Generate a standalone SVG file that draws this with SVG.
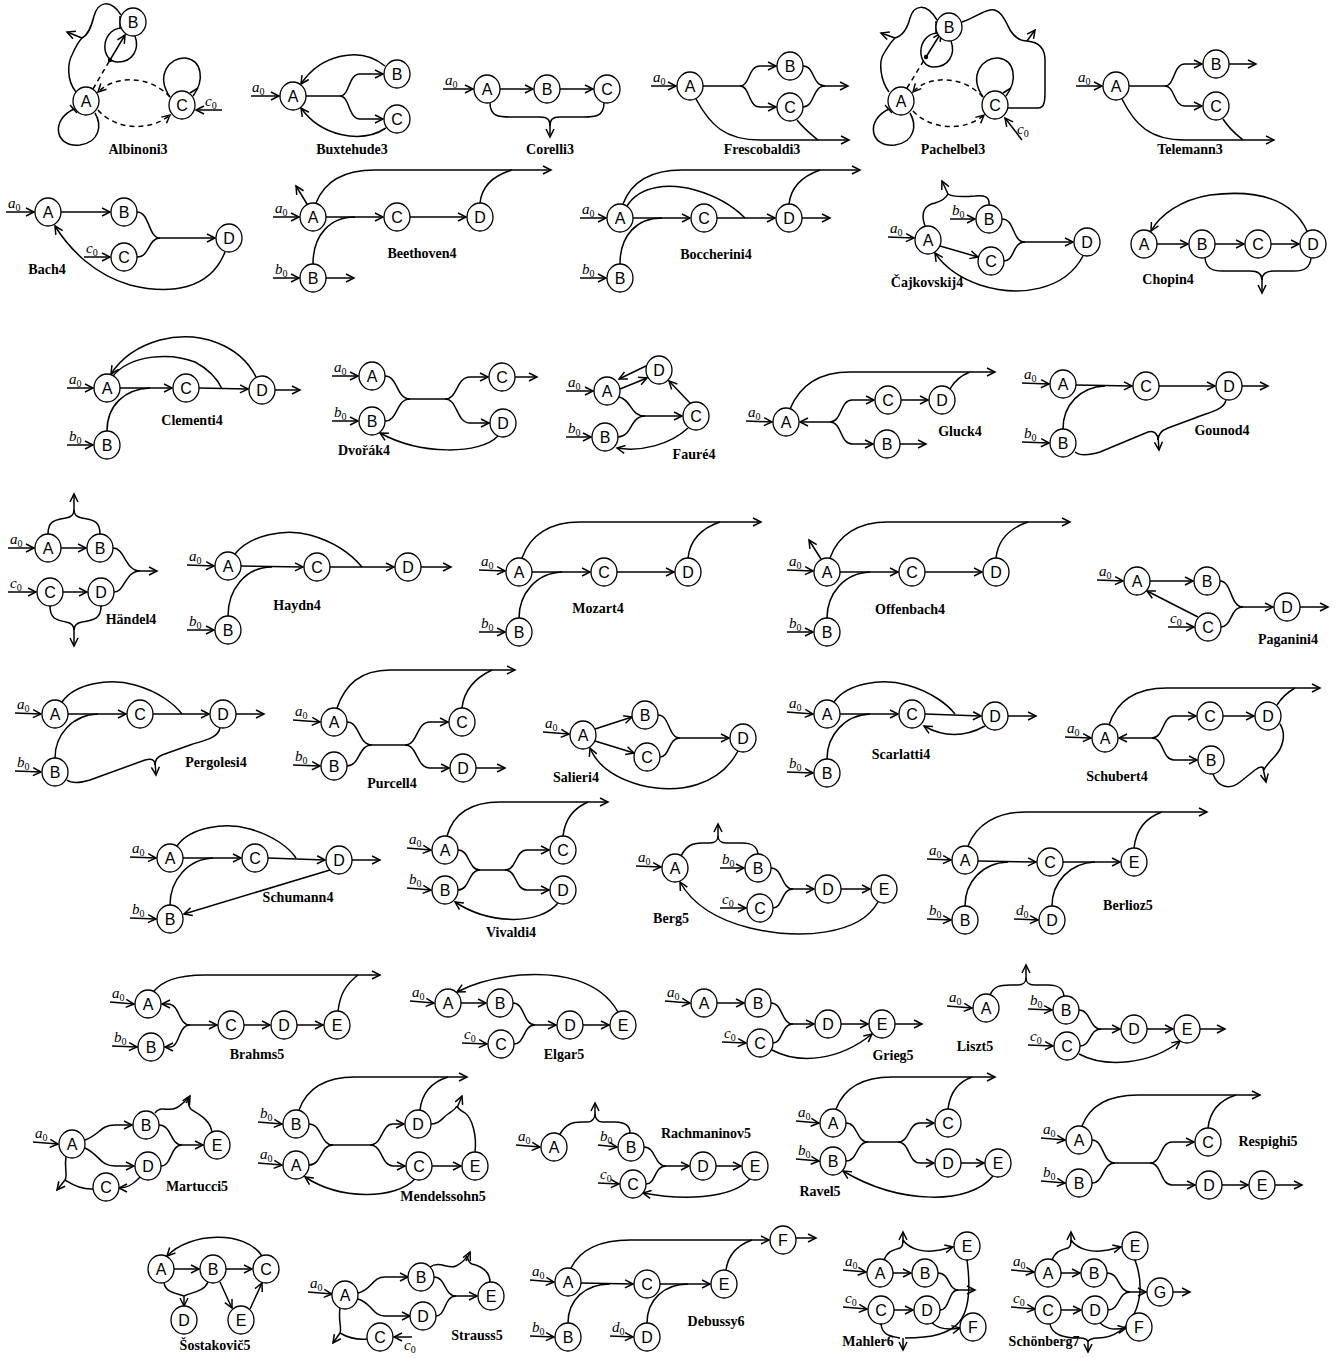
<svg xmlns="http://www.w3.org/2000/svg" width="1343" height="1358" viewBox="0 0 1343 1358">
<defs>
<marker id="h" markerUnits="userSpaceOnUse" markerWidth="12" markerHeight="12" refX="9" refY="5" orient="auto"><path d="M1,1 L9,5 L1,9" fill="none" stroke="#000" stroke-width="1.5"/></marker>
</defs>
<style>
.e path{fill:none;stroke:#000;stroke-width:1.5}
.e .a{marker-end:url(#h)}
.e .d{stroke-dasharray:5 4}
.nd ellipse{fill:#fff;stroke:#000;stroke-width:1.3}
.nd text{font-family:"Liberation Sans",Arial,sans-serif;font-size:16px;text-anchor:middle}
.lb{font-family:"Liberation Serif","Times New Roman",serif;font-weight:bold;font-size:14px;text-anchor:middle}
.iv{font-family:"Liberation Serif","Times New Roman",serif;font-style:italic;font-size:15px}
.iv tspan{font-size:10px;font-style:normal}
</style>
<rect width="1343" height="1358" fill="#fff"/>
<g id="connectors" class="e">
<!-- Albinoni3 -->
<path d="M74,109 C50,120 55,148 80,145 C100,142 102,125 95,113"/>
<path d="M70,105 L77,113"/>
<path d="M121,28 C100,30 100,62 118,62 C132,62 140,50 135,36"/>
<path d="M120,16 L120,28"/>
<path d="M170,97 C155,75 170,57 185,58 C202,60 205,80 193,96"/>
<path d="M190,93 L198,88"/>
<path d="M76,92 C66,80 68,62 72,55 C75,48 78,42 82,38"/>
<path d="M121,15 C110,-2 98,2 94,16 C91,28 88,35 82,38"/>
<path class="a" d="M82,38 L67,32"/>
<path class="d" d="M93,89 L110,60"/>
<path class="a" d="M110,60 L125,35"/>
<path class="d a" d="M170,97 C150,75 115,75 98,92"/>
<path class="d a" d="M98,110 C115,130 150,132 170,115"/>
<path class="a" d="M222,110 L196,110"/>
<!-- Buxtehude3 -->
<path class="a" d="M251,96 L279,96"/>
<path d="M306,96 L340,96"/>
<path class="a" d="M340,96 C350,96 348,74 360,74 L383,74"/>
<path class="a" d="M340,96 C350,96 348,119 360,119 L383,119"/>
<path class="a" d="M385,66 C360,45 320,55 301,84"/>
<path class="a" d="M386,128 C360,145 320,135 301,108"/>
<!-- Corelli3 -->
<path class="a" d="M443,89 L473,89"/>
<path class="a" d="M500,89 L533,89"/>
<path class="a" d="M560,89 L593,89"/>
<path d="M490,103 C490,117 500,117 510,117 L540,117 C548,117 550,120 550,126"/>
<path d="M604,103 C604,117 594,117 584,117 L560,117 C552,117 550,120 550,126"/>
<path class="a" d="M550,122 L550,137"/>
<!-- Frescobaldi3 -->
<path class="a" d="M651,86 L676,86"/>
<path d="M703,86 L740,86"/>
<path class="a" d="M740,86 C750,86 748,66 760,66 L776,66"/>
<path class="a" d="M740,86 C750,86 748,107 760,107 L776,107"/>
<path d="M803,66 C815,66 812,86 825,86"/>
<path d="M803,107 C815,107 812,86 825,86"/>
<path class="a" d="M825,86 L848,86"/>
<path class="a" d="M696,99 C710,125 725,140 760,140 L849,140"/>
<path d="M797,120 C805,130 812,135 818,140"/>
<!-- Pachelbel3 -->
<path d="M889,109 C865,120 870,148 895,145 C915,142 917,125 910,113"/>
<path d="M885,105 L892,113"/>
<path d="M937,33 C916,35 916,67 934,67 C948,67 956,55 951,41"/>
<path d="M936,21 L936,33"/>
<path d="M983,97 C968,75 983,57 998,58 C1015,60 1018,80 1006,96"/>
<path d="M1003,93 L1011,88"/>
<path d="M889,92 C880,80 879,62 883,55 C887,48 891,42 895,38"/>
<path d="M937,20 C926,2 914,5 910,18 C907,30 902,36 895,38"/>
<path class="a" d="M895,38 L881,33"/>
<path d="M962,22 C975,18 980,12 990,10 C1000,8 1005,20 1010,30 C1015,38 1020,41 1027,41"/>
<path d="M1008,108 L1038,108 C1045,108 1045,100 1045,90 L1045,60 C1045,48 1038,42 1027,41"/>
<path class="a" d="M1027,41 L1035,30"/>
<path class="d" d="M907,88 L926,57"/>
<path class="a" d="M926,57 L941,33"/>
<path class="d a" d="M983,97 C963,75 928,75 913,92"/>
<path class="d a" d="M913,111 C930,130 965,132 984,115"/>
<path class="a" d="M1022,140 L1005,118"/>
<!-- Telemann3 -->
<path class="a" d="M1076,86 L1102,86"/>
<path d="M1129,86 L1165,86"/>
<path class="a" d="M1165,86 C1175,86 1173,64 1185,64 L1202,64"/>
<path class="a" d="M1165,86 C1175,86 1173,106 1185,106 L1202,106"/>
<path class="a" d="M1229,64 L1256,64"/>
<path class="a" d="M1122,99 C1135,125 1150,140 1185,140 L1274,140"/>
<path d="M1223,119 C1230,130 1237,135 1243,140"/>
<!-- Bach4 -->
<path class="a" d="M6,212 L34,212"/>
<path class="a" d="M61,212 L110,212"/>
<path class="a" d="M84,257 L110,257"/>
<path d="M137,212 C150,212 148,238 160,238"/>
<path d="M137,257 C150,257 148,238 160,238"/>
<path class="a" d="M160,238 L215,238"/>
<path class="a" d="M225,252 C210,290 170,295 130,285 C95,275 70,250 55,226"/>
<!-- Beethoven4 -->
<path class="a" d="M273,217 L299,217"/>
<path class="a" d="M273,278 L299,278"/>
<path class="a" d="M326,278 L354,278"/>
<path class="a" d="M307,204 L296,186"/>
<path class="a" d="M326,217 L383,217"/>
<path d="M313,264 C313,235 330,217 355,217"/>
<path class="a" d="M410,217 L466,217"/>
<path class="a" d="M316,203 C325,180 345,170 375,170 L551,170"/>
<path d="M480,203 C482,185 495,175 512,170"/>
<!-- Boccherini4 -->
<path class="a" d="M580,218 L606,218"/>
<path class="a" d="M580,278 L606,278"/>
<path class="a" d="M633,218 L690,218"/>
<path d="M620,264 C620,235 637,218 662,218"/>
<path class="a" d="M717,218 L775,218"/>
<path d="M627,206 C640,185 670,183 695,190 C720,197 735,208 745,218"/>
<path class="a" d="M623,204 C632,180 652,170 682,170 L860,170"/>
<path d="M789,204 C791,186 803,176 820,170"/>
<path class="a" d="M802,218 L830,218"/>
<!-- Cajkovskij4 -->
<path class="a" d="M888,237 L914,238"/>
<path class="a" d="M950,219 L975,219"/>
<path class="a" d="M940,246 L978,257"/>
<path d="M1002,219 C1015,219 1012,242 1025,242"/>
<path d="M1004,261 C1015,261 1012,242 1025,242"/>
<path class="a" d="M1025,242 L1073,242"/>
<path d="M925,226 C920,212 925,205 935,203 C942,201 946,198 948,194"/>
<path d="M989,205 C990,197 985,195 975,196 C962,197 952,197 948,194"/>
<path class="a" d="M948,194 L942,181"/>
<path class="a" d="M1083,256 C1065,290 1020,298 980,285 C960,278 945,268 935,253"/>
<!-- Chopin4 -->
<path class="a" d="M1157,244 L1188,244"/>
<path class="a" d="M1215,244 L1244,244"/>
<path class="a" d="M1271,244 L1299,244"/>
<path class="a" d="M1307,231 C1290,195 1250,190 1210,195 C1180,200 1160,215 1151,231"/>
<path d="M1205,258 C1206,268 1212,271 1222,271 L1250,271 C1257,271 1262,273 1262,280"/>
<path d="M1311,258 C1310,268 1304,271 1294,271 L1274,271 C1267,271 1262,273 1262,280"/>
<path class="a" d="M1262,278 L1262,293"/>
<!-- Clementi4 -->
<path class="a" d="M67,388 L93,388"/>
<path class="a" d="M67,445 L93,445"/>
<path class="a" d="M120,388 L172,388"/>
<path d="M107,431 C107,405 125,389 150,388"/>
<path class="a" d="M199,388 L248,389"/>
<path d="M113,376 C130,355 170,352 195,362 C210,370 218,380 222,389"/>
<path class="a" d="M256,377 C240,345 200,330 160,340 C135,347 120,360 111,374"/>
<path class="a" d="M275,390 L300,390"/>
<!-- Dvorak4 -->
<path class="a" d="M332,376 L358,376"/>
<path class="a" d="M332,421 L358,421"/>
<path d="M385,376 C398,376 396,399 410,399"/>
<path d="M385,421 C398,421 396,399 410,399"/>
<path d="M410,399 L445,399"/>
<path class="a" d="M445,399 C458,399 456,377 470,377 L488,377"/>
<path class="a" d="M445,399 C458,399 456,423 470,423 L489,423"/>
<path class="a" d="M515,377 L537,377"/>
<path class="a" d="M498,436 C480,455 420,455 380,433"/>
<!-- Faure4 -->
<path class="a" d="M566,391 L593,391"/>
<path class="a" d="M566,437 L591,437"/>
<path class="a" d="M648,365 L619,379"/>
<path class="a" d="M620,389 L647,378"/>
<path d="M619,397 C632,400 630,416 645,416"/>
<path d="M618,437 C632,437 630,416 645,416"/>
<path class="a" d="M645,416 L682,416"/>
<path class="a" d="M690,403 L669,381"/>
<path class="a" d="M688,428 C670,445 640,452 617,448"/>
<!-- Gluck4 -->
<path class="a" d="M746,421 L772,422"/>
<path class="a" d="M790,409 C800,385 820,372 850,372 L995,372"/>
<path d="M950,389 C955,380 962,375 970,372"/>
<path class="a" d="M830,422 L800,422"/>
<path class="a" d="M830,422 C842,422 840,400 852,400 L874,400"/>
<path class="a" d="M830,422 C842,422 840,444 852,444 L873,444"/>
<path class="a" d="M901,400 L928,400"/>
<path class="a" d="M900,444 L926,444"/>
<!-- Gounod4 -->
<path class="a" d="M1022,383 L1049,384"/>
<path class="a" d="M1022,442 L1049,443"/>
<path class="a" d="M1076,385 L1132,386"/>
<path d="M1063,429 C1063,405 1080,387 1105,386"/>
<path class="a" d="M1159,386 L1215,386"/>
<path class="a" d="M1242,386 L1268,386"/>
<path d="M1226,400 C1224,410 1210,412 1195,418 L1168,428 C1160,431 1158,435 1158,440"/>
<path d="M1075,452 C1080,456 1090,455 1100,452 L1148,432 C1155,430 1158,435 1158,440"/>
<path class="a" d="M1158,436 L1159,450"/>
<!-- Handel4 -->
<path class="a" d="M8,548 L34,548"/>
<path class="a" d="M8,592 L36,592"/>
<path class="a" d="M61,548 L86,548"/>
<path class="a" d="M63,592 L87,592"/>
<path d="M48,534 C48,520 56,520 66,518 C72,517 74,514 74,510"/>
<path d="M100,534 C100,520 92,520 82,518 C76,517 74,514 74,510"/>
<path class="a" d="M74,512 L74,494"/>
<path d="M113,548 C125,548 125,571 140,571"/>
<path d="M114,592 C125,592 125,571 140,571"/>
<path class="a" d="M140,571 L157,571"/>
<path d="M50,606 C50,620 58,620 66,622 C72,623 74,626 74,630"/>
<path d="M101,606 C101,620 92,620 82,622 C76,623 74,626 74,630"/>
<path class="a" d="M74,628 L74,646"/>
<!-- Haydn4 -->
<path class="a" d="M187,565 L214,566"/>
<path class="a" d="M187,630 L214,630"/>
<path class="a" d="M241,566 L303,567"/>
<path d="M228,616 C228,590 245,567 272,567"/>
<path class="a" d="M330,567 L394,567"/>
<path d="M235,554 C250,535 285,528 310,535 C335,542 352,555 362,567"/>
<path class="a" d="M421,567 L451,567"/>
<!-- Mozart4 -->
<path class="a" d="M479,570 L505,571"/>
<path class="a" d="M479,632 L505,632"/>
<path class="a" d="M532,572 L590,572"/>
<path d="M519,618 C519,594 536,573 562,572"/>
<path class="a" d="M617,572 L674,572"/>
<path class="a" d="M522,558 C530,535 550,522 580,522 L761,522"/>
<path d="M688,558 C690,540 702,528 720,522"/>
<!-- Offenbach4 -->
<path class="a" d="M787,570 L813,571"/>
<path class="a" d="M787,632 L813,632"/>
<path class="a" d="M821,559 L809,540"/>
<path class="a" d="M840,572 L898,572"/>
<path d="M827,618 C827,594 844,573 870,572"/>
<path class="a" d="M925,572 L982,572"/>
<path class="a" d="M830,558 C838,535 858,522 888,522 L1070,522"/>
<path d="M996,558 C998,540 1010,528 1028,522"/>
<!-- Paganini4 -->
<path class="a" d="M1097,580 L1123,581"/>
<path class="a" d="M1168,627 L1194,627"/>
<path class="a" d="M1150,581 L1193,581"/>
<path class="a" d="M1198,617 L1147,591"/>
<path d="M1220,581 C1232,581 1230,607 1243,607"/>
<path d="M1221,627 C1232,627 1230,607 1243,607"/>
<path class="a" d="M1243,607 L1273,607"/>
<path class="a" d="M1300,607 L1328,607"/>
<!-- Pergolesi4 -->
<path class="a" d="M15,713 L41,714"/>
<path class="a" d="M15,771 L41,772"/>
<path class="a" d="M68,714 L126,714"/>
<path d="M55,758 C55,735 72,715 98,714"/>
<path class="a" d="M153,714 L209,714"/>
<path d="M62,702 C75,683 110,678 135,685 C160,692 175,705 182,714"/>
<path class="a" d="M236,714 L264,714"/>
<path d="M220,728 C218,738 205,740 190,745 L162,755 C157,757 155,760 155,765"/>
<path d="M67,780 C72,784 80,783 90,780 L145,760 C152,758 155,760 155,765"/>
<path class="a" d="M155,762 L156,775"/>
<!-- Purcell4 -->
<path class="a" d="M293,720 L320,722"/>
<path class="a" d="M293,765 L320,766"/>
<path class="a" d="M337,708 C345,685 360,670 390,670 L515,670"/>
<path d="M462,708 C464,690 475,678 492,670"/>
<path d="M347,722 C360,722 358,745 372,745"/>
<path d="M347,766 C360,766 358,745 372,745"/>
<path d="M372,745 L405,745"/>
<path class="a" d="M405,745 C418,745 416,722 430,722 L448,722"/>
<path class="a" d="M405,745 C418,745 416,768 430,768 L449,768"/>
<path class="a" d="M476,768 L505,768"/>
<!-- Salieri4 -->
<path class="a" d="M543,732 L569,734"/>
<path class="a" d="M595,729 L632,717"/>
<path class="a" d="M595,741 L634,753"/>
<path d="M658,715 C670,715 668,738 680,738"/>
<path d="M660,757 C670,757 668,738 680,738"/>
<path class="a" d="M680,738 L729,738"/>
<path class="a" d="M738,751 C720,785 680,795 640,785 C615,778 597,765 590,748"/>
<!-- Scarlatti4 -->
<path class="a" d="M787,712 L813,714"/>
<path class="a" d="M787,772 L813,773"/>
<path class="a" d="M840,714 L898,714"/>
<path d="M827,759 C827,735 845,715 870,714"/>
<path class="a" d="M925,714 L981,716"/>
<path d="M834,702 C847,683 882,678 907,685 C932,692 948,705 955,714"/>
<path class="a" d="M1008,716 L1036,716"/>
<path class="a" d="M985,726 C965,737 945,738 924,726"/>
<!-- Schubert4 -->
<path class="a" d="M1065,737 L1091,738"/>
<path class="a" d="M1109,725 C1117,700 1137,688 1167,688 L1320,688"/>
<path d="M1277,705 C1282,697 1288,692 1295,688"/>
<path class="a" d="M1152,738 L1119,738"/>
<path class="a" d="M1152,738 C1164,738 1162,716 1174,716 L1196,716"/>
<path class="a" d="M1152,738 C1164,738 1162,760 1174,760 L1197,760"/>
<path class="a" d="M1223,716 L1254,716"/>
<path d="M1280,724 C1287,735 1282,748 1276,755 C1270,762 1266,765 1264,770"/>
<path d="M1213,774 C1218,788 1230,790 1240,782 L1255,770 C1260,766 1264,766 1264,770"/>
<path class="a" d="M1263,768 L1266,782"/>
<!-- Schumann4 -->
<path class="a" d="M130,857 L156,858"/>
<path class="a" d="M130,918 L156,919"/>
<path class="a" d="M183,858 L241,858"/>
<path d="M170,905 C170,880 188,859 213,858"/>
<path class="a" d="M268,858 L325,860"/>
<path d="M177,846 C190,827 225,822 250,829 C275,836 290,849 296,858"/>
<path class="a" d="M352,860 L380,860"/>
<path class="a" d="M330,870 L184,914"/>
<!-- Vivaldi4 -->
<path class="a" d="M407,848 L431,850"/>
<path class="a" d="M407,888 L431,890"/>
<path class="a" d="M447,836 C453,815 470,802 500,802 L608,802"/>
<path d="M563,836 C565,818 574,808 588,802"/>
<path d="M458,850 C470,850 468,870 480,870"/>
<path d="M458,890 C470,890 468,870 480,870"/>
<path d="M480,870 L505,870"/>
<path class="a" d="M505,870 C517,870 515,850 527,850 L549,850"/>
<path class="a" d="M505,870 C517,870 515,890 527,890 L549,890"/>
<path class="a" d="M558,903 C540,925 490,925 455,902"/>
<!-- Berg5 -->
<path class="a" d="M636,866 L661,867"/>
<path class="a" d="M720,868 L744,868"/>
<path class="a" d="M720,908 L746,908"/>
<path d="M681,856 C686,846 692,843 702,843 L710,843 C715,843 718,840 718,836"/>
<path d="M758,854 C757,846 752,843 742,843 L726,843 C721,843 718,840 718,836"/>
<path class="a" d="M718,838 L718,824"/>
<path d="M771,868 C783,868 781,889 793,889"/>
<path d="M773,908 C783,908 781,889 793,889"/>
<path class="a" d="M793,889 L814,889"/>
<path class="a" d="M841,889 L870,889"/>
<path class="a" d="M878,902 C860,935 800,940 750,928 C710,918 690,900 680,882"/>
<!-- Berlioz5 -->
<path class="a" d="M927,859 L951,860"/>
<path class="a" d="M927,919 L951,920"/>
<path class="a" d="M1014,919 L1038,920"/>
<path class="a" d="M968,846 C976,825 996,812 1026,812 L1207,812"/>
<path d="M1134,848 C1136,830 1145,818 1162,812"/>
<path class="a" d="M978,861 L1036,862"/>
<path d="M965,906 C965,882 982,863 1008,862"/>
<path class="a" d="M1063,862 L1120,862"/>
<path d="M1052,906 C1052,882 1070,863 1095,862"/>
<!-- Brahms5 -->
<path class="a" d="M110,1002 L134,1004"/>
<path class="a" d="M112,1046 L137,1047"/>
<path class="a" d="M190,1025 C178,1025 180,1004 168,1004 L162,1004"/>
<path class="a" d="M190,1025 C178,1025 180,1047 170,1047 L165,1047"/>
<path class="a" d="M190,1025 L217,1025"/>
<path class="a" d="M244,1025 L270,1025"/>
<path class="a" d="M297,1025 L323,1025"/>
<path class="a" d="M154,991 C162,982 175,975 205,975 L380,975"/>
<path d="M338,1011 C340,995 345,985 358,975"/>
<!-- Elgar5 -->
<path class="a" d="M410,1001 L434,1003"/>
<path class="a" d="M462,1043 L487,1044"/>
<path class="a" d="M461,1003 L486,1003"/>
<path d="M513,1003 C525,1003 523,1025 535,1025"/>
<path d="M514,1044 C525,1044 523,1025 535,1025"/>
<path class="a" d="M535,1025 L556,1025"/>
<path class="a" d="M583,1025 L609,1025"/>
<path class="a" d="M618,1012 C600,980 560,972 520,975 C490,978 470,985 457,992"/>
<!-- Grieg5 -->
<path class="a" d="M665,1001 L690,1003"/>
<path class="a" d="M722,1042 L746,1043"/>
<path class="a" d="M717,1003 L744,1003"/>
<path d="M771,1003 C783,1003 781,1024 793,1024"/>
<path d="M773,1043 C783,1043 781,1024 793,1024"/>
<path class="a" d="M793,1024 L814,1024"/>
<path class="a" d="M841,1024 L868,1024"/>
<path class="a" d="M895,1024 L922,1024"/>
<path class="a" d="M772,1050 C800,1065 840,1060 872,1034"/>
<!-- Liszt5 -->
<path class="a" d="M947,1006 L972,1008"/>
<path class="a" d="M1028,1009 L1052,1010"/>
<path class="a" d="M1028,1045 L1053,1046"/>
<path d="M990,995 C994,986 1000,985 1010,985 L1018,985 C1023,985 1026,982 1026,978"/>
<path d="M1064,996 C1063,988 1058,985 1048,985 L1034,985 C1029,985 1026,982 1026,978"/>
<path class="a" d="M1026,980 L1026,965"/>
<path d="M1079,1010 C1091,1010 1089,1029 1101,1029"/>
<path d="M1080,1046 C1091,1046 1089,1029 1101,1029"/>
<path class="a" d="M1101,1029 L1120,1029"/>
<path class="a" d="M1147,1029 L1173,1029"/>
<path class="a" d="M1200,1029 L1225,1029"/>
<path class="a" d="M1079,1054 C1105,1068 1150,1065 1180,1041"/>
<!-- Martucci5 -->
<path class="a" d="M33,1142 L58,1144"/>
<path class="a" d="M85,1140 C100,1135 100,1125 115,1125 L132,1125"/>
<path class="a" d="M85,1148 C100,1155 100,1166 115,1166 L134,1166"/>
<path d="M159,1125 C172,1125 170,1145 182,1145"/>
<path d="M161,1166 C172,1166 170,1145 182,1145"/>
<path class="a" d="M182,1145 L203,1145"/>
<path d="M155,1113 C160,1105 168,1112 176,1108 C182,1105 186,1100 188,1098"/>
<path d="M212,1132 C210,1120 200,1115 192,1110 C189,1108 188,1102 188,1098"/>
<path class="a" d="M186,1103 L190,1096"/>
<path d="M66,1157 C64,1168 68,1175 65,1180"/>
<path d="M93,1189 C80,1190 70,1183 65,1180"/>
<path class="a" d="M65,1180 L57,1190"/>
<path class="a" d="M140,1177 C132,1186 126,1188 119,1188"/>
<!-- Mendelssohn5 -->
<path class="a" d="M258,1122 L282,1124"/>
<path class="a" d="M258,1163 L282,1165"/>
<path class="a" d="M299,1110 C307,1088 325,1077 355,1077 L467,1077"/>
<path d="M420,1110 C422,1092 432,1082 448,1077"/>
<path d="M309,1124 C322,1124 320,1145 333,1145"/>
<path d="M309,1165 C322,1165 320,1145 333,1145"/>
<path d="M333,1145 L370,1145"/>
<path class="a" d="M370,1145 C383,1145 381,1124 393,1124 L404,1124"/>
<path class="a" d="M370,1145 C383,1145 381,1166 393,1166 L405,1166"/>
<path class="a" d="M432,1166 L461,1166"/>
<path d="M431,1124 C440,1124 442,1118 448,1114 C452,1111 455,1110 457,1106"/>
<path d="M475,1152 C477,1135 472,1118 465,1113 C460,1110 458,1109 457,1106"/>
<path class="a" d="M457,1108 L462,1096"/>
<path class="a" d="M415,1179 C395,1200 340,1200 305,1177"/>
<!-- Rachmaninov5 -->
<path class="a" d="M516,1145 L540,1147"/>
<path class="a" d="M598,1145 L617,1147"/>
<path class="a" d="M598,1183 L619,1184"/>
<path d="M560,1134 C566,1124 572,1122 582,1122 L588,1122 C592,1122 595,1118 595,1114"/>
<path d="M630,1133 C630,1125 625,1122 615,1122 L602,1122 C598,1122 595,1118 595,1114"/>
<path class="a" d="M595,1116 L595,1103"/>
<path d="M644,1147 C656,1147 654,1166 666,1166"/>
<path d="M646,1184 C656,1184 654,1166 666,1166"/>
<path class="a" d="M666,1166 L689,1166"/>
<path class="a" d="M716,1166 L741,1166"/>
<path class="a" d="M750,1179 C730,1200 680,1200 643,1193"/>
<!-- Ravel5 -->
<path class="a" d="M796,1121 L819,1123"/>
<path class="a" d="M796,1159 L819,1161"/>
<path class="a" d="M836,1109 C844,1088 862,1077 892,1077 L995,1077"/>
<path d="M948,1109 C950,1092 958,1082 972,1077"/>
<path d="M846,1123 C858,1123 856,1142 868,1142"/>
<path d="M846,1161 C858,1161 856,1142 868,1142"/>
<path d="M868,1142 L898,1142"/>
<path class="a" d="M898,1142 C910,1142 908,1123 920,1123 L934,1123"/>
<path class="a" d="M898,1142 C910,1142 908,1163 920,1163 L934,1163"/>
<path class="a" d="M961,1163 L984,1163"/>
<path class="a" d="M993,1176 C970,1205 900,1205 843,1171"/>
<!-- Respighi5 -->
<path class="a" d="M1041,1138 L1065,1140"/>
<path class="a" d="M1041,1181 L1065,1183"/>
<path class="a" d="M1082,1126 C1090,1105 1108,1095 1138,1095 L1260,1095"/>
<path d="M1208,1128 C1210,1110 1220,1100 1236,1095"/>
<path d="M1092,1140 C1104,1140 1102,1163 1115,1163"/>
<path d="M1092,1183 C1104,1183 1102,1163 1115,1163"/>
<path d="M1115,1163 L1150,1163"/>
<path class="a" d="M1150,1163 C1162,1163 1160,1142 1172,1142 L1194,1142"/>
<path class="a" d="M1150,1163 C1162,1163 1160,1185 1172,1185 L1195,1185"/>
<path class="a" d="M1222,1185 L1248,1185"/>
<path class="a" d="M1275,1185 L1302,1185"/>
<!-- Sostakovic5 -->
<path class="a" d="M174,1269 L199,1269"/>
<path class="a" d="M226,1269 L252,1269"/>
<path class="a" d="M262,1256 C245,1230 190,1232 167,1256"/>
<path d="M164,1283 C166,1293 176,1293 184,1296"/>
<path d="M208,1282 C204,1292 192,1292 184,1296"/>
<path class="a" d="M184,1296 L184,1306"/>
<path class="a" d="M220,1282 C226,1295 228,1300 232,1308"/>
<path class="a" d="M250,1309 L262,1283"/>
<!-- Strauss5 -->
<path class="a" d="M308,1292 L332,1294"/>
<path class="a" d="M358,1293 C372,1290 372,1277 385,1277 L408,1277"/>
<path class="a" d="M358,1299 C372,1303 372,1316 385,1316 L410,1316"/>
<path d="M434,1277 C446,1277 444,1296 456,1296"/>
<path d="M436,1316 C446,1316 444,1296 456,1296"/>
<path class="a" d="M456,1296 L477,1296"/>
<path d="M430,1267 C440,1260 448,1270 456,1266 C462,1263 465,1260 467,1256"/>
<path d="M490,1282 C490,1270 480,1266 472,1264 C469,1263 468,1260 467,1256"/>
<path class="a" d="M466,1261 L470,1252"/>
<path d="M340,1308 C338,1320 342,1328 340,1333"/>
<path d="M367,1339 C355,1340 345,1336 340,1333"/>
<path class="a" d="M340,1333 L333,1343"/>
<path class="a" d="M412,1337 L394,1337"/>
<!-- Debussy6 -->
<path class="a" d="M530,1280 L554,1282"/>
<path class="a" d="M530,1336 L554,1337"/>
<path class="a" d="M610,1336 L633,1337"/>
<path class="a" d="M571,1268 C580,1250 600,1240 630,1240 L769,1240"/>
<path d="M726,1270 C728,1255 738,1245 752,1240"/>
<path class="a" d="M581,1283 L633,1284"/>
<path d="M568,1323 C568,1300 585,1284 610,1284"/>
<path class="a" d="M660,1284 L710,1284"/>
<path d="M647,1323 C647,1300 664,1284 688,1284"/>
<path class="a" d="M796,1238 L816,1238"/>
<!-- Mahler6 -->
<path class="a" d="M843,1270 L866,1272"/>
<path class="a" d="M843,1307 L867,1309"/>
<path class="a" d="M893,1273 L911,1273"/>
<path class="a" d="M894,1310 L913,1310"/>
<path d="M884,1260 C888,1250 894,1250 900,1248 C902,1247 903,1243 903,1240"/>
<path class="a" d="M903,1243 L903,1232"/>
<path class="a" d="M903,1240 C910,1250 925,1253 940,1250 L953,1247"/>
<path d="M938,1273 C950,1273 948,1290 958,1290"/>
<path d="M940,1310 C950,1310 948,1290 958,1290"/>
<path class="a" d="M958,1290 L975,1290"/>
<path class="a" d="M932,1323 C940,1330 950,1330 960,1328"/>
<path d="M881,1324 C882,1335 890,1336 900,1338"/>
<path d="M967,1260 C975,1320 960,1338 905,1338"/>
<path class="a" d="M903,1338 L903,1350"/>
<!-- Schonberg7 -->
<path class="a" d="M1011,1270 L1034,1272"/>
<path class="a" d="M1011,1307 L1035,1309"/>
<path class="a" d="M1061,1273 L1080,1273"/>
<path class="a" d="M1061,1310 L1081,1310"/>
<path d="M1052,1260 C1056,1250 1062,1250 1068,1248 C1070,1247 1071,1243 1071,1240"/>
<path class="a" d="M1071,1243 L1071,1232"/>
<path class="a" d="M1071,1240 C1078,1250 1093,1253 1108,1250 L1121,1247"/>
<path d="M1107,1273 C1120,1273 1118,1292 1130,1292"/>
<path d="M1108,1310 C1120,1310 1118,1292 1130,1292"/>
<path class="a" d="M1130,1292 L1146,1292"/>
<path class="a" d="M1173,1292 L1190,1292"/>
<path class="a" d="M1100,1323 C1108,1330 1115,1330 1126,1328"/>
<path d="M1050,1324 C1052,1336 1066,1338 1080,1338 C1085,1338 1088,1340 1088,1342"/>
<path d="M1135,1260 C1150,1300 1130,1338 1098,1338 C1092,1338 1088,1340 1088,1342"/>
<path class="a" d="M1088,1340 L1088,1352"/>
</g>
<g id="nodes">
<g id="albinoni3-A" class="nd"><ellipse cx="86" cy="101" rx="13" ry="14"/><text x="86" y="107">A</text></g>
<g id="albinoni3-B" class="nd"><ellipse cx="133" cy="22" rx="13" ry="14"/><text x="133" y="28">B</text></g>
<g id="albinoni3-C" class="nd"><ellipse cx="182" cy="105" rx="13" ry="14"/><text x="182" y="111">C</text></g>
<g id="buxtehude3-A" class="nd"><ellipse cx="293" cy="96" rx="13" ry="14"/><text x="293" y="102">A</text></g>
<g id="buxtehude3-B" class="nd"><ellipse cx="397" cy="74" rx="13" ry="14"/><text x="397" y="80">B</text></g>
<g id="buxtehude3-C" class="nd"><ellipse cx="397" cy="119" rx="13" ry="14"/><text x="397" y="125">C</text></g>
<g id="corelli3-A" class="nd"><ellipse cx="487" cy="89" rx="13" ry="14"/><text x="487" y="95">A</text></g>
<g id="corelli3-B" class="nd"><ellipse cx="547" cy="89" rx="13" ry="14"/><text x="547" y="95">B</text></g>
<g id="corelli3-C" class="nd"><ellipse cx="607" cy="89" rx="13" ry="14"/><text x="607" y="95">C</text></g>
<g id="frescobaldi3-A" class="nd"><ellipse cx="690" cy="86" rx="13" ry="14"/><text x="690" y="92">A</text></g>
<g id="frescobaldi3-B" class="nd"><ellipse cx="790" cy="66" rx="13" ry="14"/><text x="790" y="72">B</text></g>
<g id="frescobaldi3-C" class="nd"><ellipse cx="790" cy="107" rx="13" ry="14"/><text x="790" y="113">C</text></g>
<g id="pachelbel3-A" class="nd"><ellipse cx="901" cy="101" rx="13" ry="14"/><text x="901" y="107">A</text></g>
<g id="pachelbel3-B" class="nd"><ellipse cx="949" cy="27" rx="13" ry="14"/><text x="949" y="33">B</text></g>
<g id="pachelbel3-C" class="nd"><ellipse cx="995" cy="105" rx="13" ry="14"/><text x="995" y="111">C</text></g>
<g id="telemann3-A" class="nd"><ellipse cx="1116" cy="86" rx="13" ry="14"/><text x="1116" y="92">A</text></g>
<g id="telemann3-B" class="nd"><ellipse cx="1216" cy="64" rx="13" ry="14"/><text x="1216" y="70">B</text></g>
<g id="telemann3-C" class="nd"><ellipse cx="1216" cy="106" rx="13" ry="14"/><text x="1216" y="112">C</text></g>
<g id="bach4-A" class="nd"><ellipse cx="48" cy="212" rx="13" ry="14"/><text x="48" y="218">A</text></g>
<g id="bach4-B" class="nd"><ellipse cx="124" cy="212" rx="13" ry="14"/><text x="124" y="218">B</text></g>
<g id="bach4-C" class="nd"><ellipse cx="124" cy="257" rx="13" ry="14"/><text x="124" y="263">C</text></g>
<g id="bach4-D" class="nd"><ellipse cx="229" cy="238" rx="13" ry="14"/><text x="229" y="244">D</text></g>
<g id="beethoven4-A" class="nd"><ellipse cx="313" cy="217" rx="13" ry="14"/><text x="313" y="223">A</text></g>
<g id="beethoven4-B" class="nd"><ellipse cx="313" cy="278" rx="13" ry="14"/><text x="313" y="284">B</text></g>
<g id="beethoven4-C" class="nd"><ellipse cx="397" cy="217" rx="13" ry="14"/><text x="397" y="223">C</text></g>
<g id="beethoven4-D" class="nd"><ellipse cx="480" cy="217" rx="13" ry="14"/><text x="480" y="223">D</text></g>
<g id="boccherini4-A" class="nd"><ellipse cx="620" cy="218" rx="13" ry="14"/><text x="620" y="224">A</text></g>
<g id="boccherini4-B" class="nd"><ellipse cx="620" cy="278" rx="13" ry="14"/><text x="620" y="284">B</text></g>
<g id="boccherini4-C" class="nd"><ellipse cx="704" cy="218" rx="13" ry="14"/><text x="704" y="224">C</text></g>
<g id="boccherini4-D" class="nd"><ellipse cx="789" cy="218" rx="13" ry="14"/><text x="789" y="224">D</text></g>
<g id="cajkovskij4-A" class="nd"><ellipse cx="928" cy="240" rx="13" ry="14"/><text x="928" y="246">A</text></g>
<g id="cajkovskij4-B" class="nd"><ellipse cx="989" cy="219" rx="13" ry="14"/><text x="989" y="225">B</text></g>
<g id="cajkovskij4-C" class="nd"><ellipse cx="991" cy="261" rx="13" ry="14"/><text x="991" y="267">C</text></g>
<g id="cajkovskij4-D" class="nd"><ellipse cx="1087" cy="242" rx="13" ry="14"/><text x="1087" y="248">D</text></g>
<g id="chopin4-A" class="nd"><ellipse cx="1144" cy="244" rx="13" ry="14"/><text x="1144" y="250">A</text></g>
<g id="chopin4-B" class="nd"><ellipse cx="1202" cy="244" rx="13" ry="14"/><text x="1202" y="250">B</text></g>
<g id="chopin4-C" class="nd"><ellipse cx="1258" cy="244" rx="13" ry="14"/><text x="1258" y="250">C</text></g>
<g id="chopin4-D" class="nd"><ellipse cx="1313" cy="244" rx="13" ry="14"/><text x="1313" y="250">D</text></g>
<g id="clementi4-A" class="nd"><ellipse cx="107" cy="388" rx="13" ry="14"/><text x="107" y="394">A</text></g>
<g id="clementi4-B" class="nd"><ellipse cx="107" cy="445" rx="13" ry="14"/><text x="107" y="451">B</text></g>
<g id="clementi4-C" class="nd"><ellipse cx="186" cy="388" rx="13" ry="14"/><text x="186" y="394">C</text></g>
<g id="clementi4-D" class="nd"><ellipse cx="262" cy="390" rx="13" ry="14"/><text x="262" y="396">D</text></g>
<g id="dvorak4-A" class="nd"><ellipse cx="372" cy="376" rx="13" ry="14"/><text x="372" y="382">A</text></g>
<g id="dvorak4-B" class="nd"><ellipse cx="372" cy="421" rx="13" ry="14"/><text x="372" y="427">B</text></g>
<g id="dvorak4-C" class="nd"><ellipse cx="502" cy="377" rx="13" ry="14"/><text x="502" y="383">C</text></g>
<g id="dvorak4-D" class="nd"><ellipse cx="503" cy="423" rx="13" ry="14"/><text x="503" y="429">D</text></g>
<g id="faure4-A" class="nd"><ellipse cx="607" cy="391" rx="13" ry="14"/><text x="607" y="397">A</text></g>
<g id="faure4-B" class="nd"><ellipse cx="605" cy="437" rx="13" ry="14"/><text x="605" y="443">B</text></g>
<g id="faure4-C" class="nd"><ellipse cx="696" cy="416" rx="13" ry="14"/><text x="696" y="422">C</text></g>
<g id="faure4-D" class="nd"><ellipse cx="659" cy="370" rx="13" ry="14"/><text x="659" y="376">D</text></g>
<g id="gluck4-A" class="nd"><ellipse cx="786" cy="422" rx="13" ry="14"/><text x="786" y="428">A</text></g>
<g id="gluck4-B" class="nd"><ellipse cx="887" cy="444" rx="13" ry="14"/><text x="887" y="450">B</text></g>
<g id="gluck4-C" class="nd"><ellipse cx="888" cy="400" rx="13" ry="14"/><text x="888" y="406">C</text></g>
<g id="gluck4-D" class="nd"><ellipse cx="942" cy="400" rx="13" ry="14"/><text x="942" y="406">D</text></g>
<g id="gounod4-A" class="nd"><ellipse cx="1063" cy="384" rx="13" ry="14"/><text x="1063" y="390">A</text></g>
<g id="gounod4-B" class="nd"><ellipse cx="1063" cy="443" rx="13" ry="14"/><text x="1063" y="449">B</text></g>
<g id="gounod4-C" class="nd"><ellipse cx="1146" cy="386" rx="13" ry="14"/><text x="1146" y="392">C</text></g>
<g id="gounod4-D" class="nd"><ellipse cx="1229" cy="386" rx="13" ry="14"/><text x="1229" y="392">D</text></g>
<g id="handel4-A" class="nd"><ellipse cx="48" cy="548" rx="13" ry="14"/><text x="48" y="554">A</text></g>
<g id="handel4-B" class="nd"><ellipse cx="100" cy="548" rx="13" ry="14"/><text x="100" y="554">B</text></g>
<g id="handel4-C" class="nd"><ellipse cx="50" cy="592" rx="13" ry="14"/><text x="50" y="598">C</text></g>
<g id="handel4-D" class="nd"><ellipse cx="101" cy="592" rx="13" ry="14"/><text x="101" y="598">D</text></g>
<g id="haydn4-A" class="nd"><ellipse cx="228" cy="566" rx="13" ry="14"/><text x="228" y="572">A</text></g>
<g id="haydn4-B" class="nd"><ellipse cx="228" cy="630" rx="13" ry="14"/><text x="228" y="636">B</text></g>
<g id="haydn4-C" class="nd"><ellipse cx="317" cy="567" rx="13" ry="14"/><text x="317" y="573">C</text></g>
<g id="haydn4-D" class="nd"><ellipse cx="408" cy="567" rx="13" ry="14"/><text x="408" y="573">D</text></g>
<g id="mozart4-A" class="nd"><ellipse cx="519" cy="572" rx="13" ry="14"/><text x="519" y="578">A</text></g>
<g id="mozart4-B" class="nd"><ellipse cx="519" cy="632" rx="13" ry="14"/><text x="519" y="638">B</text></g>
<g id="mozart4-C" class="nd"><ellipse cx="604" cy="572" rx="13" ry="14"/><text x="604" y="578">C</text></g>
<g id="mozart4-D" class="nd"><ellipse cx="688" cy="572" rx="13" ry="14"/><text x="688" y="578">D</text></g>
<g id="offenbach4-A" class="nd"><ellipse cx="827" cy="572" rx="13" ry="14"/><text x="827" y="578">A</text></g>
<g id="offenbach4-B" class="nd"><ellipse cx="827" cy="632" rx="13" ry="14"/><text x="827" y="638">B</text></g>
<g id="offenbach4-C" class="nd"><ellipse cx="912" cy="572" rx="13" ry="14"/><text x="912" y="578">C</text></g>
<g id="offenbach4-D" class="nd"><ellipse cx="996" cy="572" rx="13" ry="14"/><text x="996" y="578">D</text></g>
<g id="paganini4-A" class="nd"><ellipse cx="1137" cy="581" rx="13" ry="14"/><text x="1137" y="587">A</text></g>
<g id="paganini4-B" class="nd"><ellipse cx="1207" cy="581" rx="13" ry="14"/><text x="1207" y="587">B</text></g>
<g id="paganini4-C" class="nd"><ellipse cx="1208" cy="627" rx="13" ry="14"/><text x="1208" y="633">C</text></g>
<g id="paganini4-D" class="nd"><ellipse cx="1287" cy="607" rx="13" ry="14"/><text x="1287" y="613">D</text></g>
<g id="pergolesi4-A" class="nd"><ellipse cx="55" cy="714" rx="13" ry="14"/><text x="55" y="720">A</text></g>
<g id="pergolesi4-B" class="nd"><ellipse cx="55" cy="772" rx="13" ry="14"/><text x="55" y="778">B</text></g>
<g id="pergolesi4-C" class="nd"><ellipse cx="140" cy="714" rx="13" ry="14"/><text x="140" y="720">C</text></g>
<g id="pergolesi4-D" class="nd"><ellipse cx="223" cy="714" rx="13" ry="14"/><text x="223" y="720">D</text></g>
<g id="purcell4-A" class="nd"><ellipse cx="334" cy="722" rx="13" ry="14"/><text x="334" y="728">A</text></g>
<g id="purcell4-B" class="nd"><ellipse cx="334" cy="766" rx="13" ry="14"/><text x="334" y="772">B</text></g>
<g id="purcell4-C" class="nd"><ellipse cx="462" cy="722" rx="13" ry="14"/><text x="462" y="728">C</text></g>
<g id="purcell4-D" class="nd"><ellipse cx="463" cy="768" rx="13" ry="14"/><text x="463" y="774">D</text></g>
<g id="salieri4-A" class="nd"><ellipse cx="583" cy="735" rx="13" ry="14"/><text x="583" y="741">A</text></g>
<g id="salieri4-B" class="nd"><ellipse cx="645" cy="715" rx="13" ry="14"/><text x="645" y="721">B</text></g>
<g id="salieri4-C" class="nd"><ellipse cx="647" cy="757" rx="13" ry="14"/><text x="647" y="763">C</text></g>
<g id="salieri4-D" class="nd"><ellipse cx="743" cy="738" rx="13" ry="14"/><text x="743" y="744">D</text></g>
<g id="scarlatti4-A" class="nd"><ellipse cx="827" cy="714" rx="13" ry="14"/><text x="827" y="720">A</text></g>
<g id="scarlatti4-B" class="nd"><ellipse cx="827" cy="773" rx="13" ry="14"/><text x="827" y="779">B</text></g>
<g id="scarlatti4-C" class="nd"><ellipse cx="912" cy="714" rx="13" ry="14"/><text x="912" y="720">C</text></g>
<g id="scarlatti4-D" class="nd"><ellipse cx="995" cy="716" rx="13" ry="14"/><text x="995" y="722">D</text></g>
<g id="schubert4-A" class="nd"><ellipse cx="1105" cy="738" rx="13" ry="14"/><text x="1105" y="744">A</text></g>
<g id="schubert4-B" class="nd"><ellipse cx="1211" cy="760" rx="13" ry="14"/><text x="1211" y="766">B</text></g>
<g id="schubert4-C" class="nd"><ellipse cx="1210" cy="716" rx="13" ry="14"/><text x="1210" y="722">C</text></g>
<g id="schubert4-D" class="nd"><ellipse cx="1268" cy="716" rx="13" ry="14"/><text x="1268" y="722">D</text></g>
<g id="schumann4-A" class="nd"><ellipse cx="170" cy="858" rx="13" ry="14"/><text x="170" y="864">A</text></g>
<g id="schumann4-B" class="nd"><ellipse cx="170" cy="919" rx="13" ry="14"/><text x="170" y="925">B</text></g>
<g id="schumann4-C" class="nd"><ellipse cx="255" cy="858" rx="13" ry="14"/><text x="255" y="864">C</text></g>
<g id="schumann4-D" class="nd"><ellipse cx="339" cy="860" rx="13" ry="14"/><text x="339" y="866">D</text></g>
<g id="vivaldi4-A" class="nd"><ellipse cx="445" cy="850" rx="13" ry="14"/><text x="445" y="856">A</text></g>
<g id="vivaldi4-B" class="nd"><ellipse cx="445" cy="890" rx="13" ry="14"/><text x="445" y="896">B</text></g>
<g id="vivaldi4-C" class="nd"><ellipse cx="563" cy="850" rx="13" ry="14"/><text x="563" y="856">C</text></g>
<g id="vivaldi4-D" class="nd"><ellipse cx="563" cy="890" rx="13" ry="14"/><text x="563" y="896">D</text></g>
<g id="berg5-A" class="nd"><ellipse cx="675" cy="868" rx="13" ry="14"/><text x="675" y="874">A</text></g>
<g id="berg5-B" class="nd"><ellipse cx="758" cy="868" rx="13" ry="14"/><text x="758" y="874">B</text></g>
<g id="berg5-C" class="nd"><ellipse cx="760" cy="908" rx="13" ry="14"/><text x="760" y="914">C</text></g>
<g id="berg5-D" class="nd"><ellipse cx="828" cy="889" rx="13" ry="14"/><text x="828" y="895">D</text></g>
<g id="berg5-E" class="nd"><ellipse cx="884" cy="889" rx="13" ry="14"/><text x="884" y="895">E</text></g>
<g id="berlioz5-A" class="nd"><ellipse cx="965" cy="860" rx="13" ry="14"/><text x="965" y="866">A</text></g>
<g id="berlioz5-B" class="nd"><ellipse cx="965" cy="920" rx="13" ry="14"/><text x="965" y="926">B</text></g>
<g id="berlioz5-C" class="nd"><ellipse cx="1050" cy="862" rx="13" ry="14"/><text x="1050" y="868">C</text></g>
<g id="berlioz5-D" class="nd"><ellipse cx="1052" cy="920" rx="13" ry="14"/><text x="1052" y="926">D</text></g>
<g id="berlioz5-E" class="nd"><ellipse cx="1134" cy="862" rx="13" ry="14"/><text x="1134" y="868">E</text></g>
<g id="brahms5-A" class="nd"><ellipse cx="148" cy="1004" rx="13" ry="14"/><text x="148" y="1010">A</text></g>
<g id="brahms5-B" class="nd"><ellipse cx="151" cy="1047" rx="13" ry="14"/><text x="151" y="1053">B</text></g>
<g id="brahms5-C" class="nd"><ellipse cx="231" cy="1025" rx="13" ry="14"/><text x="231" y="1031">C</text></g>
<g id="brahms5-D" class="nd"><ellipse cx="284" cy="1025" rx="13" ry="14"/><text x="284" y="1031">D</text></g>
<g id="brahms5-E" class="nd"><ellipse cx="337" cy="1025" rx="13" ry="14"/><text x="337" y="1031">E</text></g>
<g id="elgar5-A" class="nd"><ellipse cx="448" cy="1003" rx="13" ry="14"/><text x="448" y="1009">A</text></g>
<g id="elgar5-B" class="nd"><ellipse cx="500" cy="1003" rx="13" ry="14"/><text x="500" y="1009">B</text></g>
<g id="elgar5-C" class="nd"><ellipse cx="501" cy="1044" rx="13" ry="14"/><text x="501" y="1050">C</text></g>
<g id="elgar5-D" class="nd"><ellipse cx="570" cy="1025" rx="13" ry="14"/><text x="570" y="1031">D</text></g>
<g id="elgar5-E" class="nd"><ellipse cx="623" cy="1025" rx="13" ry="14"/><text x="623" y="1031">E</text></g>
<g id="grieg5-A" class="nd"><ellipse cx="704" cy="1003" rx="13" ry="14"/><text x="704" y="1009">A</text></g>
<g id="grieg5-B" class="nd"><ellipse cx="758" cy="1003" rx="13" ry="14"/><text x="758" y="1009">B</text></g>
<g id="grieg5-C" class="nd"><ellipse cx="760" cy="1043" rx="13" ry="14"/><text x="760" y="1049">C</text></g>
<g id="grieg5-D" class="nd"><ellipse cx="828" cy="1024" rx="13" ry="14"/><text x="828" y="1030">D</text></g>
<g id="grieg5-E" class="nd"><ellipse cx="882" cy="1024" rx="13" ry="14"/><text x="882" y="1030">E</text></g>
<g id="liszt5-A" class="nd"><ellipse cx="986" cy="1008" rx="13" ry="14"/><text x="986" y="1014">A</text></g>
<g id="liszt5-B" class="nd"><ellipse cx="1066" cy="1010" rx="13" ry="14"/><text x="1066" y="1016">B</text></g>
<g id="liszt5-C" class="nd"><ellipse cx="1067" cy="1046" rx="13" ry="14"/><text x="1067" y="1052">C</text></g>
<g id="liszt5-D" class="nd"><ellipse cx="1134" cy="1029" rx="13" ry="14"/><text x="1134" y="1035">D</text></g>
<g id="liszt5-E" class="nd"><ellipse cx="1187" cy="1029" rx="13" ry="14"/><text x="1187" y="1035">E</text></g>
<g id="martucci5-A" class="nd"><ellipse cx="72" cy="1144" rx="13" ry="14"/><text x="72" y="1150">A</text></g>
<g id="martucci5-B" class="nd"><ellipse cx="146" cy="1125" rx="13" ry="14"/><text x="146" y="1131">B</text></g>
<g id="martucci5-C" class="nd"><ellipse cx="106" cy="1187" rx="13" ry="14"/><text x="106" y="1193">C</text></g>
<g id="martucci5-D" class="nd"><ellipse cx="148" cy="1166" rx="13" ry="14"/><text x="148" y="1172">D</text></g>
<g id="martucci5-E" class="nd"><ellipse cx="217" cy="1145" rx="13" ry="14"/><text x="217" y="1151">E</text></g>
<g id="mendelssohn5-A" class="nd"><ellipse cx="296" cy="1165" rx="13" ry="14"/><text x="296" y="1171">A</text></g>
<g id="mendelssohn5-B" class="nd"><ellipse cx="296" cy="1124" rx="13" ry="14"/><text x="296" y="1130">B</text></g>
<g id="mendelssohn5-C" class="nd"><ellipse cx="419" cy="1166" rx="13" ry="14"/><text x="419" y="1172">C</text></g>
<g id="mendelssohn5-D" class="nd"><ellipse cx="418" cy="1124" rx="13" ry="14"/><text x="418" y="1130">D</text></g>
<g id="mendelssohn5-E" class="nd"><ellipse cx="475" cy="1166" rx="13" ry="14"/><text x="475" y="1172">E</text></g>
<g id="rachmaninov5-A" class="nd"><ellipse cx="554" cy="1147" rx="13" ry="14"/><text x="554" y="1153">A</text></g>
<g id="rachmaninov5-B" class="nd"><ellipse cx="631" cy="1147" rx="13" ry="14"/><text x="631" y="1153">B</text></g>
<g id="rachmaninov5-C" class="nd"><ellipse cx="633" cy="1184" rx="13" ry="14"/><text x="633" y="1190">C</text></g>
<g id="rachmaninov5-D" class="nd"><ellipse cx="703" cy="1166" rx="13" ry="14"/><text x="703" y="1172">D</text></g>
<g id="rachmaninov5-E" class="nd"><ellipse cx="755" cy="1166" rx="13" ry="14"/><text x="755" y="1172">E</text></g>
<g id="ravel5-A" class="nd"><ellipse cx="833" cy="1123" rx="13" ry="14"/><text x="833" y="1129">A</text></g>
<g id="ravel5-B" class="nd"><ellipse cx="833" cy="1161" rx="13" ry="14"/><text x="833" y="1167">B</text></g>
<g id="ravel5-C" class="nd"><ellipse cx="948" cy="1123" rx="13" ry="14"/><text x="948" y="1129">C</text></g>
<g id="ravel5-D" class="nd"><ellipse cx="948" cy="1163" rx="13" ry="14"/><text x="948" y="1169">D</text></g>
<g id="ravel5-E" class="nd"><ellipse cx="998" cy="1163" rx="13" ry="14"/><text x="998" y="1169">E</text></g>
<g id="respighi5-A" class="nd"><ellipse cx="1079" cy="1140" rx="13" ry="14"/><text x="1079" y="1146">A</text></g>
<g id="respighi5-B" class="nd"><ellipse cx="1079" cy="1183" rx="13" ry="14"/><text x="1079" y="1189">B</text></g>
<g id="respighi5-C" class="nd"><ellipse cx="1208" cy="1142" rx="13" ry="14"/><text x="1208" y="1148">C</text></g>
<g id="respighi5-D" class="nd"><ellipse cx="1209" cy="1185" rx="13" ry="14"/><text x="1209" y="1191">D</text></g>
<g id="respighi5-E" class="nd"><ellipse cx="1262" cy="1185" rx="13" ry="14"/><text x="1262" y="1191">E</text></g>
<g id="sostakovic5-A" class="nd"><ellipse cx="161" cy="1269" rx="13" ry="14"/><text x="161" y="1275">A</text></g>
<g id="sostakovic5-B" class="nd"><ellipse cx="213" cy="1269" rx="13" ry="14"/><text x="213" y="1275">B</text></g>
<g id="sostakovic5-C" class="nd"><ellipse cx="266" cy="1269" rx="13" ry="14"/><text x="266" y="1275">C</text></g>
<g id="sostakovic5-D" class="nd"><ellipse cx="184" cy="1320" rx="13" ry="14"/><text x="184" y="1326">D</text></g>
<g id="sostakovic5-E" class="nd"><ellipse cx="241" cy="1320" rx="13" ry="14"/><text x="241" y="1326">E</text></g>
<g id="strauss5-A" class="nd"><ellipse cx="345" cy="1295" rx="13" ry="14"/><text x="345" y="1301">A</text></g>
<g id="strauss5-B" class="nd"><ellipse cx="421" cy="1277" rx="13" ry="14"/><text x="421" y="1283">B</text></g>
<g id="strauss5-C" class="nd"><ellipse cx="380" cy="1337" rx="13" ry="14"/><text x="380" y="1343">C</text></g>
<g id="strauss5-D" class="nd"><ellipse cx="423" cy="1316" rx="13" ry="14"/><text x="423" y="1322">D</text></g>
<g id="strauss5-E" class="nd"><ellipse cx="491" cy="1296" rx="13" ry="14"/><text x="491" y="1302">E</text></g>
<g id="debussy6-A" class="nd"><ellipse cx="568" cy="1282" rx="13" ry="14"/><text x="568" y="1288">A</text></g>
<g id="debussy6-B" class="nd"><ellipse cx="568" cy="1337" rx="13" ry="14"/><text x="568" y="1343">B</text></g>
<g id="debussy6-C" class="nd"><ellipse cx="647" cy="1284" rx="13" ry="14"/><text x="647" y="1290">C</text></g>
<g id="debussy6-D" class="nd"><ellipse cx="647" cy="1337" rx="13" ry="14"/><text x="647" y="1343">D</text></g>
<g id="debussy6-E" class="nd"><ellipse cx="724" cy="1284" rx="13" ry="14"/><text x="724" y="1290">E</text></g>
<g id="debussy6-F" class="nd"><ellipse cx="783" cy="1240" rx="13" ry="14"/><text x="783" y="1246">F</text></g>
<g id="mahler6-A" class="nd"><ellipse cx="880" cy="1273" rx="13" ry="14"/><text x="880" y="1279">A</text></g>
<g id="mahler6-B" class="nd"><ellipse cx="925" cy="1273" rx="13" ry="14"/><text x="925" y="1279">B</text></g>
<g id="mahler6-C" class="nd"><ellipse cx="881" cy="1310" rx="13" ry="14"/><text x="881" y="1316">C</text></g>
<g id="mahler6-D" class="nd"><ellipse cx="927" cy="1310" rx="13" ry="14"/><text x="927" y="1316">D</text></g>
<g id="mahler6-E" class="nd"><ellipse cx="967" cy="1246" rx="13" ry="14"/><text x="967" y="1252">E</text></g>
<g id="mahler6-F" class="nd"><ellipse cx="973" cy="1327" rx="13" ry="14"/><text x="973" y="1333">F</text></g>
<g id="schonberg7-A" class="nd"><ellipse cx="1048" cy="1273" rx="13" ry="14"/><text x="1048" y="1279">A</text></g>
<g id="schonberg7-B" class="nd"><ellipse cx="1094" cy="1273" rx="13" ry="14"/><text x="1094" y="1279">B</text></g>
<g id="schonberg7-C" class="nd"><ellipse cx="1048" cy="1310" rx="13" ry="14"/><text x="1048" y="1316">C</text></g>
<g id="schonberg7-D" class="nd"><ellipse cx="1095" cy="1310" rx="13" ry="14"/><text x="1095" y="1316">D</text></g>
<g id="schonberg7-E" class="nd"><ellipse cx="1135" cy="1246" rx="13" ry="14"/><text x="1135" y="1252">E</text></g>
<g id="schonberg7-F" class="nd"><ellipse cx="1139" cy="1327" rx="13" ry="14"/><text x="1139" y="1333">F</text></g>
<g id="schonberg7-G" class="nd"><ellipse cx="1160" cy="1292" rx="13" ry="14"/><text x="1160" y="1298">G</text></g>
</g>
<g id="dots"><circle cx="110" cy="60" r="2.2"/><circle cx="926" cy="57" r="2.2"/></g>
<g id="inputs" class="iv">
<text x="205" y="106">c<tspan dy="3">0</tspan></text>
<text x="252" y="92">a<tspan dy="3">0</tspan></text>
<text x="445" y="85">a<tspan dy="3">0</tspan></text>
<text x="653" y="82">a<tspan dy="3">0</tspan></text>
<text x="1017" y="134">c<tspan dy="3">0</tspan></text>
<text x="1078" y="82">a<tspan dy="3">0</tspan></text>
<text x="8" y="208">a<tspan dy="3">0</tspan></text>
<text x="86" y="253">c<tspan dy="3">0</tspan></text>
<text x="275" y="213">a<tspan dy="3">0</tspan></text>
<text x="275" y="274">b<tspan dy="3">0</tspan></text>
<text x="582" y="214">a<tspan dy="3">0</tspan></text>
<text x="582" y="274">b<tspan dy="3">0</tspan></text>
<text x="890" y="233">a<tspan dy="3">0</tspan></text>
<text x="952" y="215">b<tspan dy="3">0</tspan></text>
<text x="69" y="384">a<tspan dy="3">0</tspan></text>
<text x="69" y="441">b<tspan dy="3">0</tspan></text>
<text x="334" y="372">a<tspan dy="3">0</tspan></text>
<text x="334" y="417">b<tspan dy="3">0</tspan></text>
<text x="568" y="387">a<tspan dy="3">0</tspan></text>
<text x="568" y="433">b<tspan dy="3">0</tspan></text>
<text x="748" y="417">a<tspan dy="3">0</tspan></text>
<text x="1024" y="379">a<tspan dy="3">0</tspan></text>
<text x="1024" y="438">b<tspan dy="3">0</tspan></text>
<text x="10" y="544">a<tspan dy="3">0</tspan></text>
<text x="10" y="588">c<tspan dy="3">0</tspan></text>
<text x="189" y="561">a<tspan dy="3">0</tspan></text>
<text x="189" y="626">b<tspan dy="3">0</tspan></text>
<text x="481" y="566">a<tspan dy="3">0</tspan></text>
<text x="481" y="628">b<tspan dy="3">0</tspan></text>
<text x="789" y="566">a<tspan dy="3">0</tspan></text>
<text x="789" y="628">b<tspan dy="3">0</tspan></text>
<text x="1099" y="576">a<tspan dy="3">0</tspan></text>
<text x="1170" y="623">c<tspan dy="3">0</tspan></text>
<text x="17" y="709">a<tspan dy="3">0</tspan></text>
<text x="17" y="767">b<tspan dy="3">0</tspan></text>
<text x="295" y="716">a<tspan dy="3">0</tspan></text>
<text x="295" y="761">b<tspan dy="3">0</tspan></text>
<text x="545" y="728">a<tspan dy="3">0</tspan></text>
<text x="789" y="708">a<tspan dy="3">0</tspan></text>
<text x="789" y="768">b<tspan dy="3">0</tspan></text>
<text x="1067" y="733">a<tspan dy="3">0</tspan></text>
<text x="132" y="853">a<tspan dy="3">0</tspan></text>
<text x="132" y="914">b<tspan dy="3">0</tspan></text>
<text x="409" y="844">a<tspan dy="3">0</tspan></text>
<text x="409" y="884">b<tspan dy="3">0</tspan></text>
<text x="638" y="862">a<tspan dy="3">0</tspan></text>
<text x="722" y="864">b<tspan dy="3">0</tspan></text>
<text x="722" y="904">c<tspan dy="3">0</tspan></text>
<text x="929" y="855">a<tspan dy="3">0</tspan></text>
<text x="929" y="915">b<tspan dy="3">0</tspan></text>
<text x="1016" y="915">d<tspan dy="3">0</tspan></text>
<text x="112" y="998">a<tspan dy="3">0</tspan></text>
<text x="114" y="1042">b<tspan dy="3">0</tspan></text>
<text x="412" y="997">a<tspan dy="3">0</tspan></text>
<text x="464" y="1039">c<tspan dy="3">0</tspan></text>
<text x="667" y="997">a<tspan dy="3">0</tspan></text>
<text x="724" y="1038">c<tspan dy="3">0</tspan></text>
<text x="949" y="1002">a<tspan dy="3">0</tspan></text>
<text x="1030" y="1005">b<tspan dy="3">0</tspan></text>
<text x="1030" y="1041">c<tspan dy="3">0</tspan></text>
<text x="35" y="1138">a<tspan dy="3">0</tspan></text>
<text x="260" y="1118">b<tspan dy="3">0</tspan></text>
<text x="260" y="1159">a<tspan dy="3">0</tspan></text>
<text x="518" y="1141">a<tspan dy="3">0</tspan></text>
<text x="600" y="1141">b<tspan dy="3">0</tspan></text>
<text x="600" y="1179">c<tspan dy="3">0</tspan></text>
<text x="798" y="1117">a<tspan dy="3">0</tspan></text>
<text x="798" y="1155">b<tspan dy="3">0</tspan></text>
<text x="1043" y="1134">a<tspan dy="3">0</tspan></text>
<text x="1043" y="1177">b<tspan dy="3">0</tspan></text>
<text x="310" y="1288">a<tspan dy="3">0</tspan></text>
<text x="404" y="1350">c<tspan dy="3">0</tspan></text>
<text x="532" y="1276">a<tspan dy="3">0</tspan></text>
<text x="532" y="1332">b<tspan dy="3">0</tspan></text>
<text x="612" y="1332">d<tspan dy="3">0</tspan></text>
<text x="845" y="1266">a<tspan dy="3">0</tspan></text>
<text x="845" y="1303">c<tspan dy="3">0</tspan></text>
<text x="1013" y="1266">a<tspan dy="3">0</tspan></text>
<text x="1013" y="1303">c<tspan dy="3">0</tspan></text>
</g>
<g id="titles" class="lb">
<text x="138" y="154">Albinoni3</text>
<text x="352" y="154">Buxtehude3</text>
<text x="550" y="154">Corelli3</text>
<text x="762" y="154">Frescobaldi3</text>
<text x="953" y="154">Pachelbel3</text>
<text x="1190" y="154">Telemann3</text>
<text x="47" y="274">Bach4</text>
<text x="422" y="258">Beethoven4</text>
<text x="716" y="259">Boccherini4</text>
<text x="927" y="287">Čajkovskij4</text>
<text x="1168" y="284">Chopin4</text>
<text x="192" y="425">Clementi4</text>
<text x="364" y="455">Dvořák4</text>
<text x="694" y="459">Fauré4</text>
<text x="960" y="436">Gluck4</text>
<text x="1222" y="435">Gounod4</text>
<text x="131" y="624">Händel4</text>
<text x="297" y="610">Haydn4</text>
<text x="598" y="613">Mozart4</text>
<text x="910" y="614">Offenbach4</text>
<text x="1288" y="644">Paganini4</text>
<text x="216" y="767">Pergolesi4</text>
<text x="392" y="788">Purcell4</text>
<text x="576" y="782">Salieri4</text>
<text x="901" y="759">Scarlatti4</text>
<text x="1117" y="781">Schubert4</text>
<text x="298" y="902">Schumann4</text>
<text x="511" y="937">Vivaldi4</text>
<text x="671" y="923">Berg5</text>
<text x="1128" y="910">Berlioz5</text>
<text x="257" y="1059">Brahms5</text>
<text x="564" y="1059">Elgar5</text>
<text x="893" y="1060">Grieg5</text>
<text x="975" y="1051">Liszt5</text>
<text x="197" y="1191">Martucci5</text>
<text x="443" y="1201">Mendelssohn5</text>
<text x="706" y="1138">Rachmaninov5</text>
<text x="820" y="1196">Ravel5</text>
<text x="1268" y="1146">Respighi5</text>
<text x="215" y="1350">Šostakovič5</text>
<text x="477" y="1340">Strauss5</text>
<text x="716" y="1326">Debussy6</text>
<text x="868" y="1346">Mahler6</text>
<text x="1044" y="1346">Schönberg7</text>
</g>
</svg>
